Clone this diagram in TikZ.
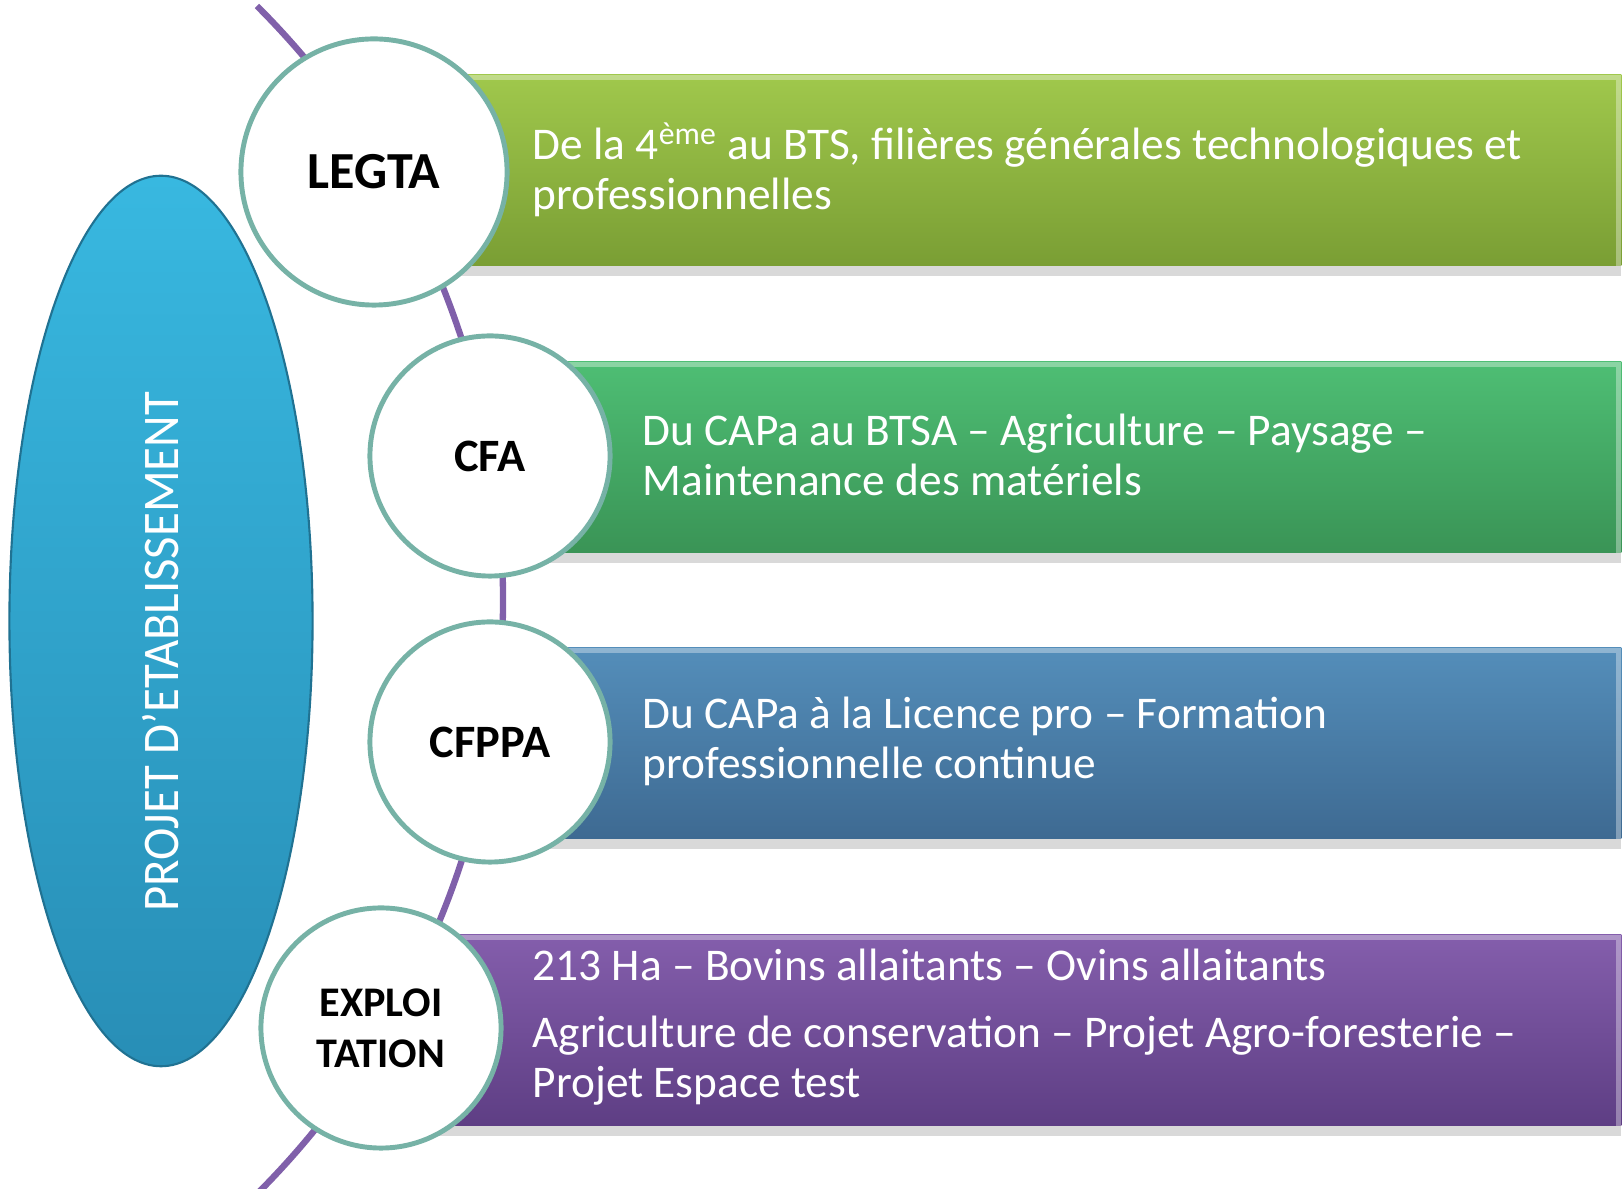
\documentclass[tikz,border=0pt]{standalone}
\usepackage{fontspec}
\setmainfont{Carlito}
\newfontfamily\condfont[FakeStretch=0.95]{Carlito}
\usetikzlibrary{shadows,shapes.geometric}

\definecolor{arcpurple}{RGB}{128,96,170}
\definecolor{ringteal}{RGB}{118,178,166}
\definecolor{ovaltop}{RGB}{56,184,224}
\definecolor{ovalbot}{RGB}{40,142,182}
\definecolor{legtatop}{RGB}{160,200,76}
\definecolor{legtabot}{RGB}{122,158,52}
\definecolor{cfatop}{RGB}{78,190,116}
\definecolor{cfabot}{RGB}{58,148,86}
\definecolor{cfppatop}{RGB}{84,142,186}
\definecolor{cfppabot}{RGB}{62,106,146}
\definecolor{explotop}{RGB}{132,94,172}
\definecolor{explobot}{RGB}{94,62,132}

\begin{document}
\begin{tikzpicture}[x=0.01cm, y=-0.01cm,
    bar/.style={rectangle, inner sep=0pt, anchor=west, minimum height=1.91cm,
        drop shadow={opacity=0.3, shadow xshift=0pt, shadow yshift=-3pt}},
    unit/.style={circle, fill=white, draw=ringteal, line width=1.4pt,
        minimum size=2.4cm, inner sep=0pt, align=center,
        font=\fontsize{13.2}{14}\selectfont\bfseries},
    bartext/.style={text=white, anchor=west, align=left, inner sep=0pt,
        font=\fontsize{12.9}{14.2}\selectfont}]

    \useasboundingbox (0,0) rectangle (1623,1189);

    % Arc behind the units
    \coordinate (arctop) at (257,6);
    \draw[arcpurple, line width=1.8pt] (arctop) arc[start angle=-45, end angle=45, radius=840];

    % Oval
    \node[ellipse, minimum width=3.03cm, minimum height=8.9cm, inner sep=0pt,
        top color=ovaltop, bottom color=ovalbot, draw=ovalbot!80!black, line width=0.6pt]
        (projet) at (161,621) {};
    \node[rotate=90, text=white, font=\condfont\fontsize{14.6}{16}\selectfont]
        (projetlbl) at (161,652) {PROJET D’ETABLISSEMENT};

    % Bars
    \node[bar, minimum width=12.47cm, top color=legtatop, bottom color=legtabot] (barlegta) at (373,170) {};
    \node[bar, minimum width=11.30cm, top color=cfatop, bottom color=cfabot] (barcfa) at (490,457) {};
    \node[bar, minimum width=11.30cm, top color=cfppatop, bottom color=cfppabot] (barcfppa) at (490,743) {};
    \node[bar, minimum width=12.39cm, top color=explotop, bottom color=explobot] (barexplo) at (381,1030) {};

    % Bevel on the bars
    \foreach \b in {barlegta,barcfa,barcfppa,barexplo}{
        \draw[white, opacity=0.35, line width=1.5pt]
            ([yshift=-1pt]\b.north west) -- ([xshift=-1pt,yshift=-1pt]\b.north east)
            -- ([xshift=-1pt]\b.south east);
    }

    % Units
    \node[unit, minimum size=2.66cm, font=\fontsize{14.8}{16}\selectfont\bfseries] (legta) at (374,172) {LEGTA};
    \node[unit] (cfa) at (490,456) {CFA};
    \node[unit] (cfppa) at (490,742) {CFPPA};
    \node[unit, font=\fontsize{12}{14.4}\selectfont\bfseries] (explo) at (381,1028) {EXPLOI\\TATION};

    % Texts
    \node[bartext] (txtlegta) at (532,170)
        {De la 4\textsuperscript{ème} au BTS, filières générales technologiques et\\professionnelles};
    \node[bartext] (txtcfa) at (642,455)
        {Du CAPa au BTSA – Agriculture – Paysage –\\Maintenance des matériels};
    \node[bartext] (txtcfppa) at (642,741)
        {Du CAPa à la Licence pro – Formation\\professionnelle continue};
    \node[bartext] (txtexplo) at (532,1027)
        {213 Ha – Bovins allaitants – Ovins allaitants\\[5pt]
         Agriculture de conservation – Projet Agro-foresterie –\\Projet Espace test};
\end{tikzpicture}
\end{document}
